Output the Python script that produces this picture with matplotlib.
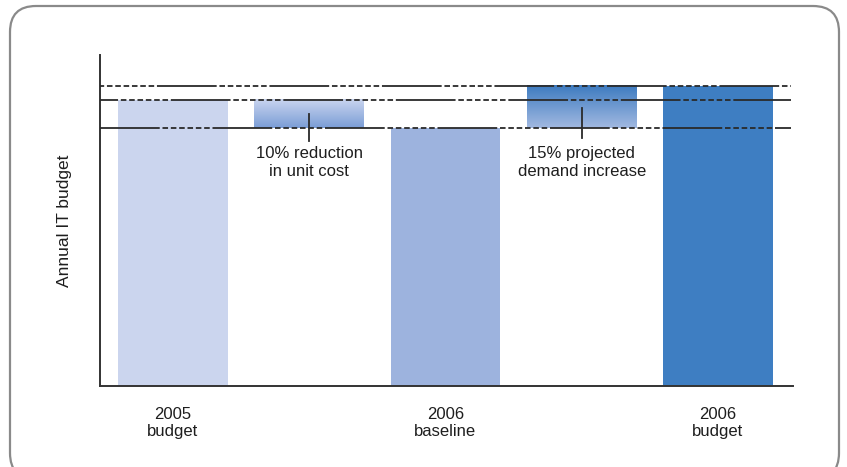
import matplotlib
matplotlib.use("Agg")
import matplotlib.pyplot as plt
import numpy as np
from matplotlib.patches import FancyBboxPatch
from matplotlib.transforms import IdentityTransform
from matplotlib.colors import LinearSegmentedColormap

plt.rcParams['font.family'] = ['Liberation Sans', 'DejaVu Sans']
plt.rcParams['lines.scale_dashes'] = False

# Data
categories = ["2005\nbudget", "10% reduction\nin unit cost", "2006\nbaseline",
              "15% projected\ndemand increase", "2006\nbudget"]
budget_2005 = 100
baseline_2006 = 90
budget_2006 = 105
ref_levels = [budget_2006, budget_2005, baseline_2006]

W, H = 847, 467
fig = plt.figure(figsize=(W / 100, H / 100), dpi=100)
ax_left, ax_right, ax_top, ax_bottom = 100, 793, 55, 385.7
ax = fig.add_axes([ax_left / W, 1 - ax_bottom / H, (ax_right - ax_left) / W, (ax_bottom - ax_top) / H])

bw = 0.806
x = np.arange(5)

# solid bars
ax.bar(x[0], budget_2005, width=bw, color="#cbd5ee", zorder=1)
ax.bar(x[2], baseline_2006, width=bw, color="#9db3de", zorder=1)
ax.bar(x[4], budget_2006, width=bw, color="#3e7ec2", zorder=1)

def grad_bar(xc, y0, y1, c_top, c_bot):
    cmap = LinearSegmentedColormap.from_list("g", [c_bot, c_top])
    grad = np.linspace(0, 1, 256).reshape(-1, 1)
    lo, hi = min(y0, y1), max(y0, y1)
    ax.imshow(grad, extent=[xc - bw / 2, xc + bw / 2, lo, hi], origin="lower",
              cmap=cmap, aspect="auto", zorder=1, interpolation="bilinear")

grad_bar(x[1], baseline_2006, budget_2005, "#cad5ef", "#7a9dd6")
grad_bar(x[3], baseline_2006, budget_2006, "#3d7bc0", "#a2b9e1")

ax.set_xlim(-0.535, 4.55)
ax.set_ylim(0, 115.7)

# reference lines with long-dash / short-dash pattern
pattern = (43, 2.0, 4.0, 2.0, 4.0, 2.0, 4.0, 2.0, 4.0, 2.0, 4.0, 2.0, 4.0, 2.0)
offsets = [40, 30, 0]
for lvl, off in zip(ref_levels, offsets):
    ax.plot([-0.535, 4.535], [lvl, lvl], color="#2a2a2a", lw=1.3,
            linestyle=(off, pattern), zorder=3, solid_capstyle="butt",
            dash_capstyle="butt")

# leader ticks
ax.plot([x[1], x[1]], [85.6, 95.1], color="#2a2a2a", lw=1.3, zorder=4)
ax.plot([x[3], x[3]], [86.6, 97.1], color="#2a2a2a", lw=1.3, zorder=4)

# annotation labels
ax.text(x[1], 83.8, categories[1], ha="center", va="top", fontsize=12,
        color="#1e1e1e", linespacing=1.2)
ax.text(x[3], 83.8, categories[3], ha="center", va="top", fontsize=12,
        color="#1e1e1e", linespacing=1.2)

# x tick labels
ax.set_xticks([x[0], x[2], x[4]])
ax.set_xticklabels([categories[0], categories[2], categories[4]], fontsize=12,
                   color="#1e1e1e", linespacing=1.2)
ax.tick_params(axis="x", length=0, pad=15)
ax.set_yticks([])

ax.set_ylabel("Annual IT budget", fontsize=12.5, color="#1e1e1e", labelpad=20)

for s in ["top", "right"]:
    ax.spines[s].set_visible(False)
for s in ["left", "bottom"]:
    ax.spines[s].set_color("#333333")
    ax.spines[s].set_linewidth(1.4)

# rounded frame
frame = FancyBboxPatch((10, -12), 829, 473, boxstyle="round,pad=0,rounding_size=26",
                       transform=IdentityTransform(), facecolor="none",
                       edgecolor="#8a8a8a", lw=1.6)
fig.patches.append(frame)

fig.savefig("out.png", dpi=100)
